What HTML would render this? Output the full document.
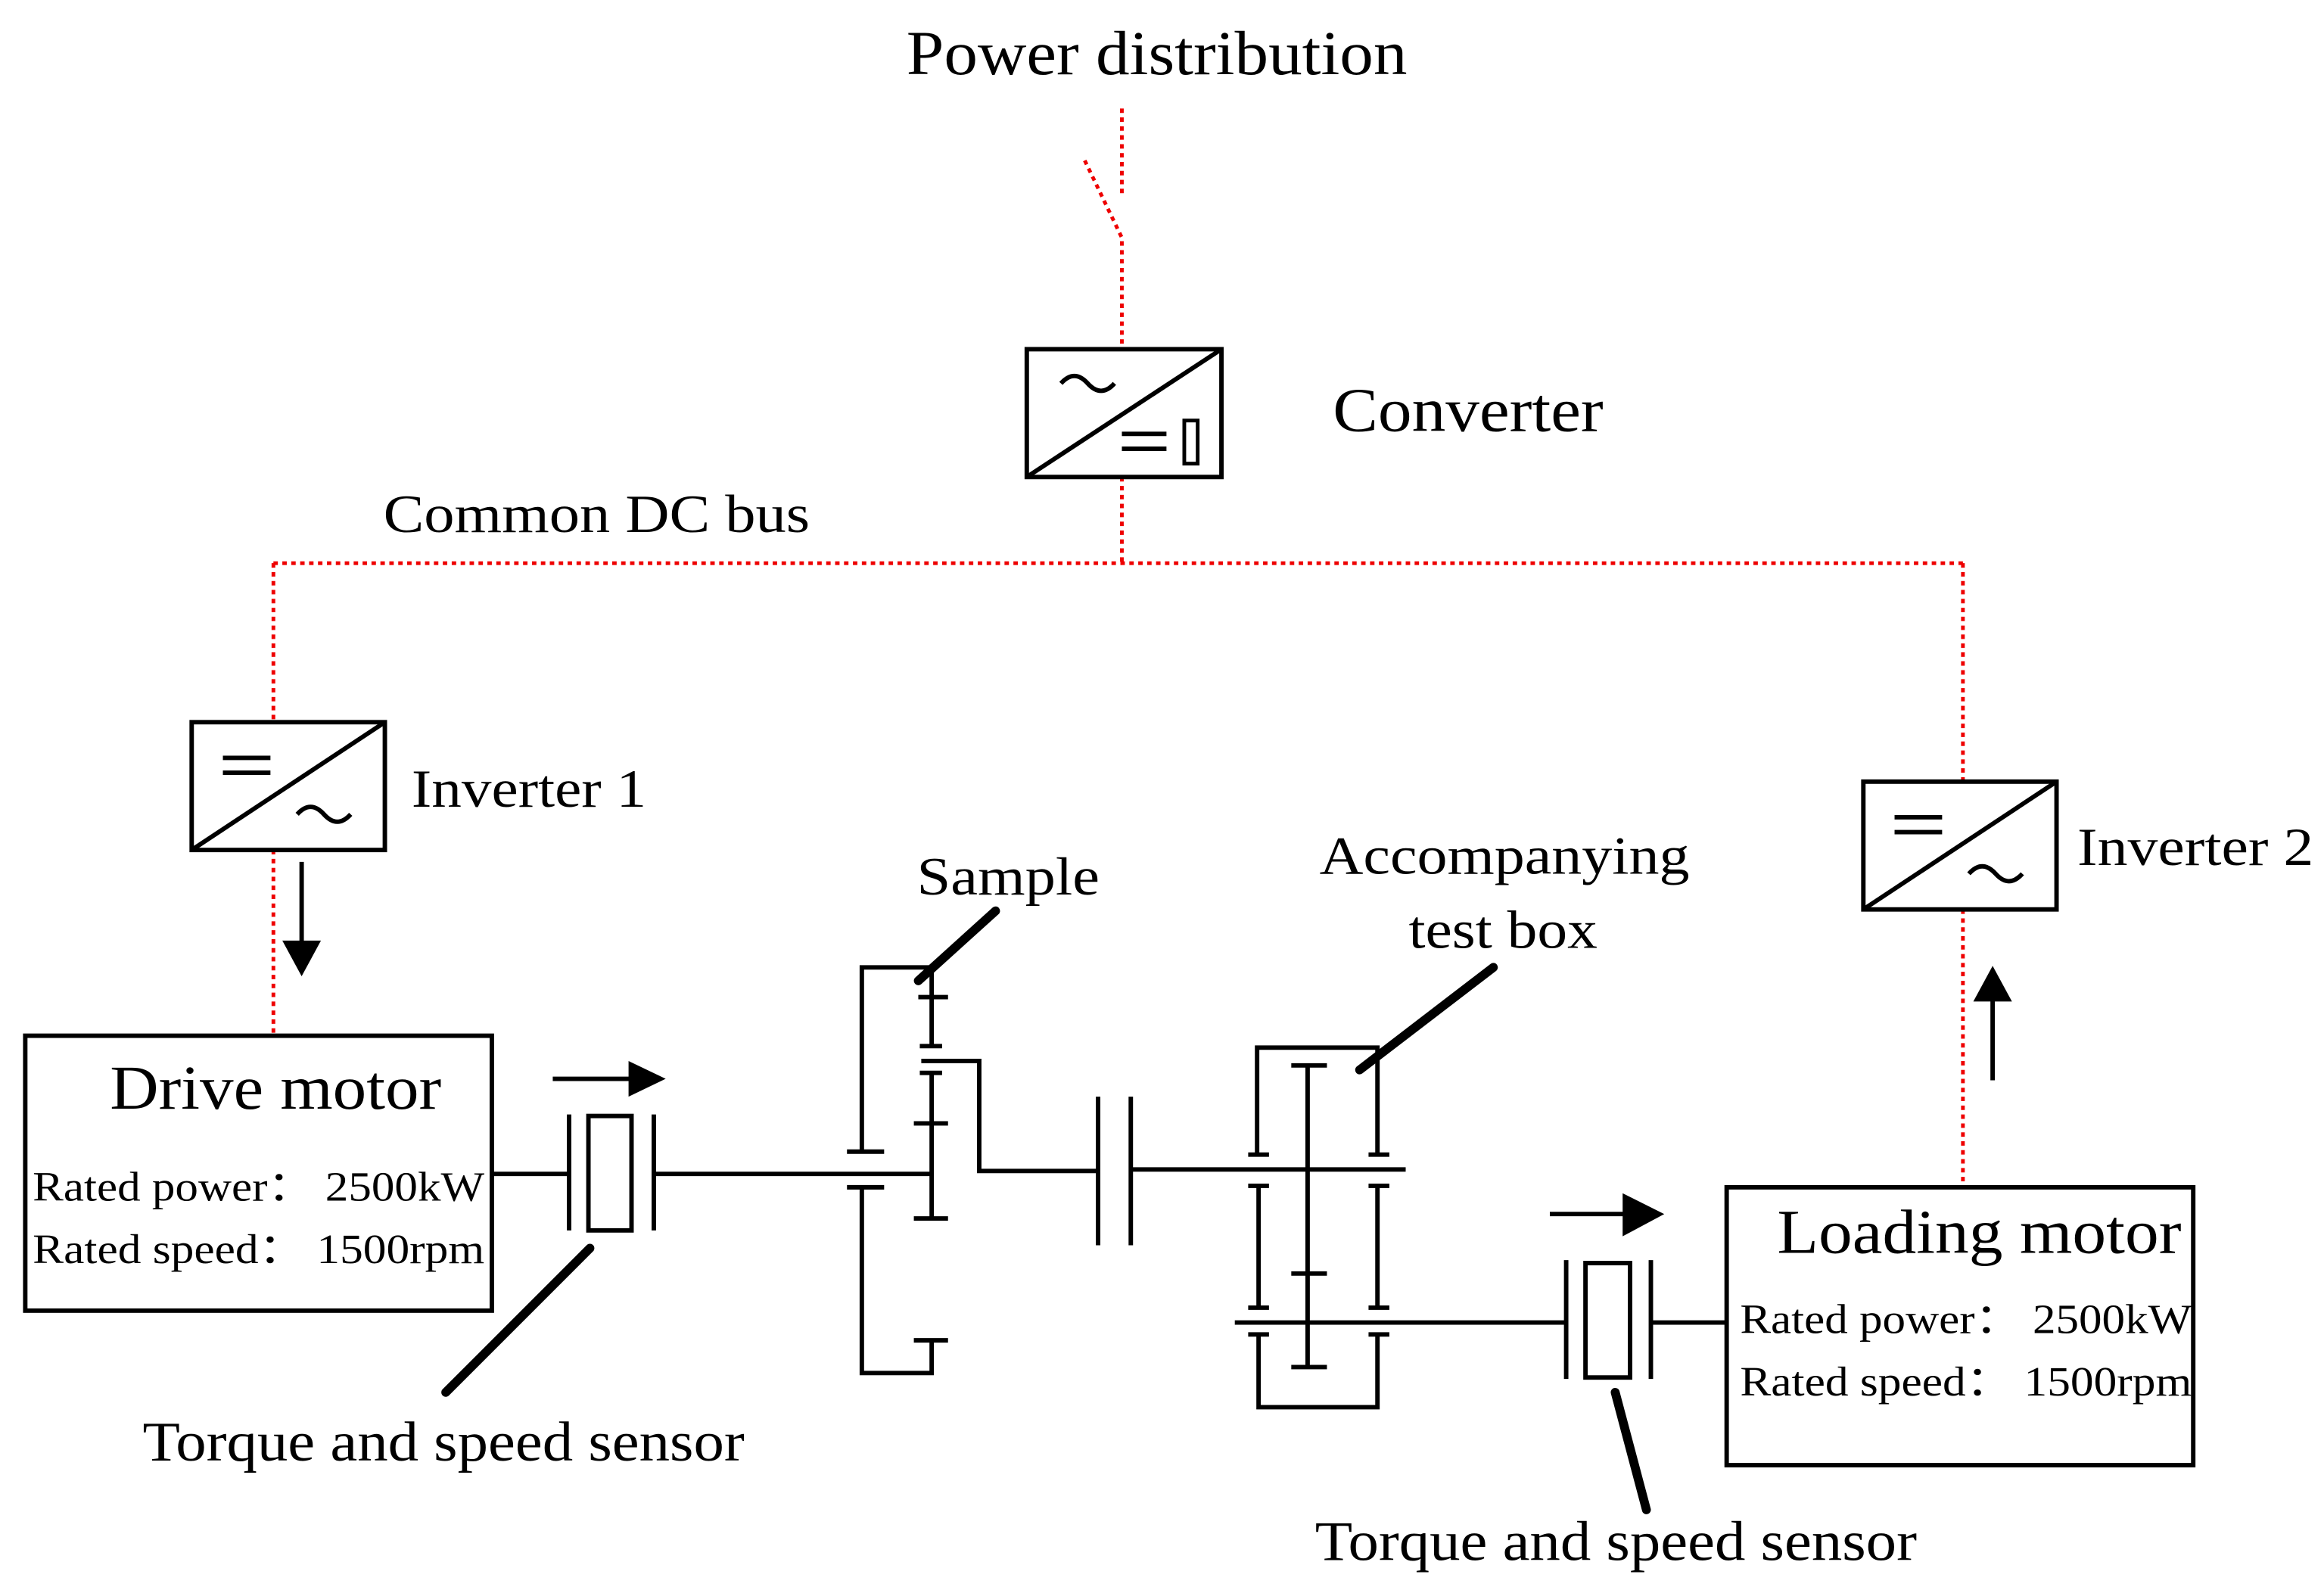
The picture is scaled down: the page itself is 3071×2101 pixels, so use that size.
<!DOCTYPE html>
<html><head><meta charset="utf-8"><style>html,body{margin:0;padding:0;background:#fff}svg{display:block}text{font-family:"Liberation Serif",serif;fill:#000}</style></head><body>
<svg width="3071" height="2101" viewBox="0 0 1564 1070" preserveAspectRatio="none" xmlns="http://www.w3.org/2000/svg">
<g fill="none" stroke="#e00" stroke-width="2.5" stroke-dasharray="3,3">
<path d="M755 73V132M730 108L755 160V235M755 321V379M184 379H1321M184 379V486M184 572V697M1321 379V526M1321 612V800"/>
</g>
<g fill="none" stroke="#000" stroke-width="3">
<rect x="691" y="235" width="131" height="86"/><path d="M691 321L822 235"/>
<path d="M714 258q9-10 18 0t18 0" /><path d="M755 292h30M755 302h30"/><rect x="797" y="283" width="9" height="29" stroke-width="2.5"/>
<rect x="129" y="486" width="130" height="86"/><path d="M129 572L259 486"/>
<path d="M150 510h32M150 520h32M200 548q9-10 18 0t18 0"/>
<rect x="1254" y="526" width="130" height="86"/><path d="M1254 612L1384 526"/>
<path d="M1275 550h32M1275 560h32M1325 588q9-10 18 0t18 0"/>
<rect x="17" y="697" width="314" height="185"/>
<rect x="1162" y="799" width="314" height="187"/>
<path d="M331 790H383M440 790H627"/>
<path d="M383 750V828M440 750V828"/><rect x="396" y="751" width="29" height="77"/>
<path d="M203 580V635M1341 727V672M372 726H425M1043 817H1098"/>
<path d="M570 775H595M570 799H595M580 775V651H627V704M618 671H638M619 704H634"/>
<path d="M620 714H659V788H739M619 722H634M627 722V820M615 756H638M615 820H638"/>
<path d="M580 799V924H627V902M615 902H638"/>
<path d="M739 738V838M761 738V838M761 787H946"/>
<path d="M846 777V705H927V777M840 777H854M921 777H935"/>
<path d="M880 717V920M869 717H893M869 857H893M869 920H893"/>
<path d="M847 798V880M927 798V880M840 798H854M921 798H935M840 880H854M921 880H935"/>
<path d="M831 890H1054M1111 890H1162"/>
<path d="M840 898H854M921 898H935M847 898V947H927V898"/>
<path d="M1054 848V928M1111 848V928"/><rect x="1067" y="850" width="30" height="77"/>
</g>
<g fill="#000"><path d="M190 633H216L203 657Z"/><path d="M1328 674H1354L1341 650Z"/><path d="M423 714L448 726L423 738Z"/><path d="M1092 803L1120 817L1092 832Z"/></g>
<g stroke="#000" stroke-width="6" stroke-linecap="round"><path d="M618 660L670 613M915 720L1005 651M300 937L397 840M1087 937L1108 1016"/></g>
<g lengthAdjust="spacingAndGlyphs">
<text x="610" y="50" font-size="42" textLength="337" lengthAdjust="spacingAndGlyphs">Power distribution</text>
<text x="897" y="290" font-size="42" textLength="182" lengthAdjust="spacingAndGlyphs">Converter</text>
<text x="258" y="358" font-size="36" textLength="287" lengthAdjust="spacingAndGlyphs">Common DC bus</text>
<text x="277" y="543" font-size="36" textLength="158" lengthAdjust="spacingAndGlyphs">Inverter 1</text>
<text x="1398" y="582" font-size="36" textLength="159" lengthAdjust="spacingAndGlyphs">Inverter 2</text>
<text x="617" y="602" font-size="36" textLength="123" lengthAdjust="spacingAndGlyphs">Sample</text>
<text x="888" y="588" font-size="36" textLength="249" lengthAdjust="spacingAndGlyphs">Accompanying</text>
<text x="948" y="638" font-size="36" textLength="127" lengthAdjust="spacingAndGlyphs">test box</text>
<text x="74" y="746" font-size="42" textLength="223" lengthAdjust="spacingAndGlyphs">Drive motor</text>
<text x="22" y="808" font-size="28" textLength="304" lengthAdjust="spacingAndGlyphs">Rated power：  2500kW</text>
<text x="22" y="850" font-size="28" textLength="304" lengthAdjust="spacingAndGlyphs">Rated speed：  1500rpm</text>
<text x="1196" y="843" font-size="42" textLength="272" lengthAdjust="spacingAndGlyphs">Loading motor</text>
<text x="1171" y="897" font-size="28" textLength="304" lengthAdjust="spacingAndGlyphs">Rated power：  2500kW</text>
<text x="1171" y="939" font-size="28" textLength="304" lengthAdjust="spacingAndGlyphs">Rated speed：  1500rpm</text>
<text x="96" y="983" font-size="38" textLength="405" lengthAdjust="spacingAndGlyphs">Torque and speed sensor</text>
<text x="885" y="1050" font-size="38" textLength="405" lengthAdjust="spacingAndGlyphs">Torque and speed sensor</text>
</g>
</svg>
</body></html>
